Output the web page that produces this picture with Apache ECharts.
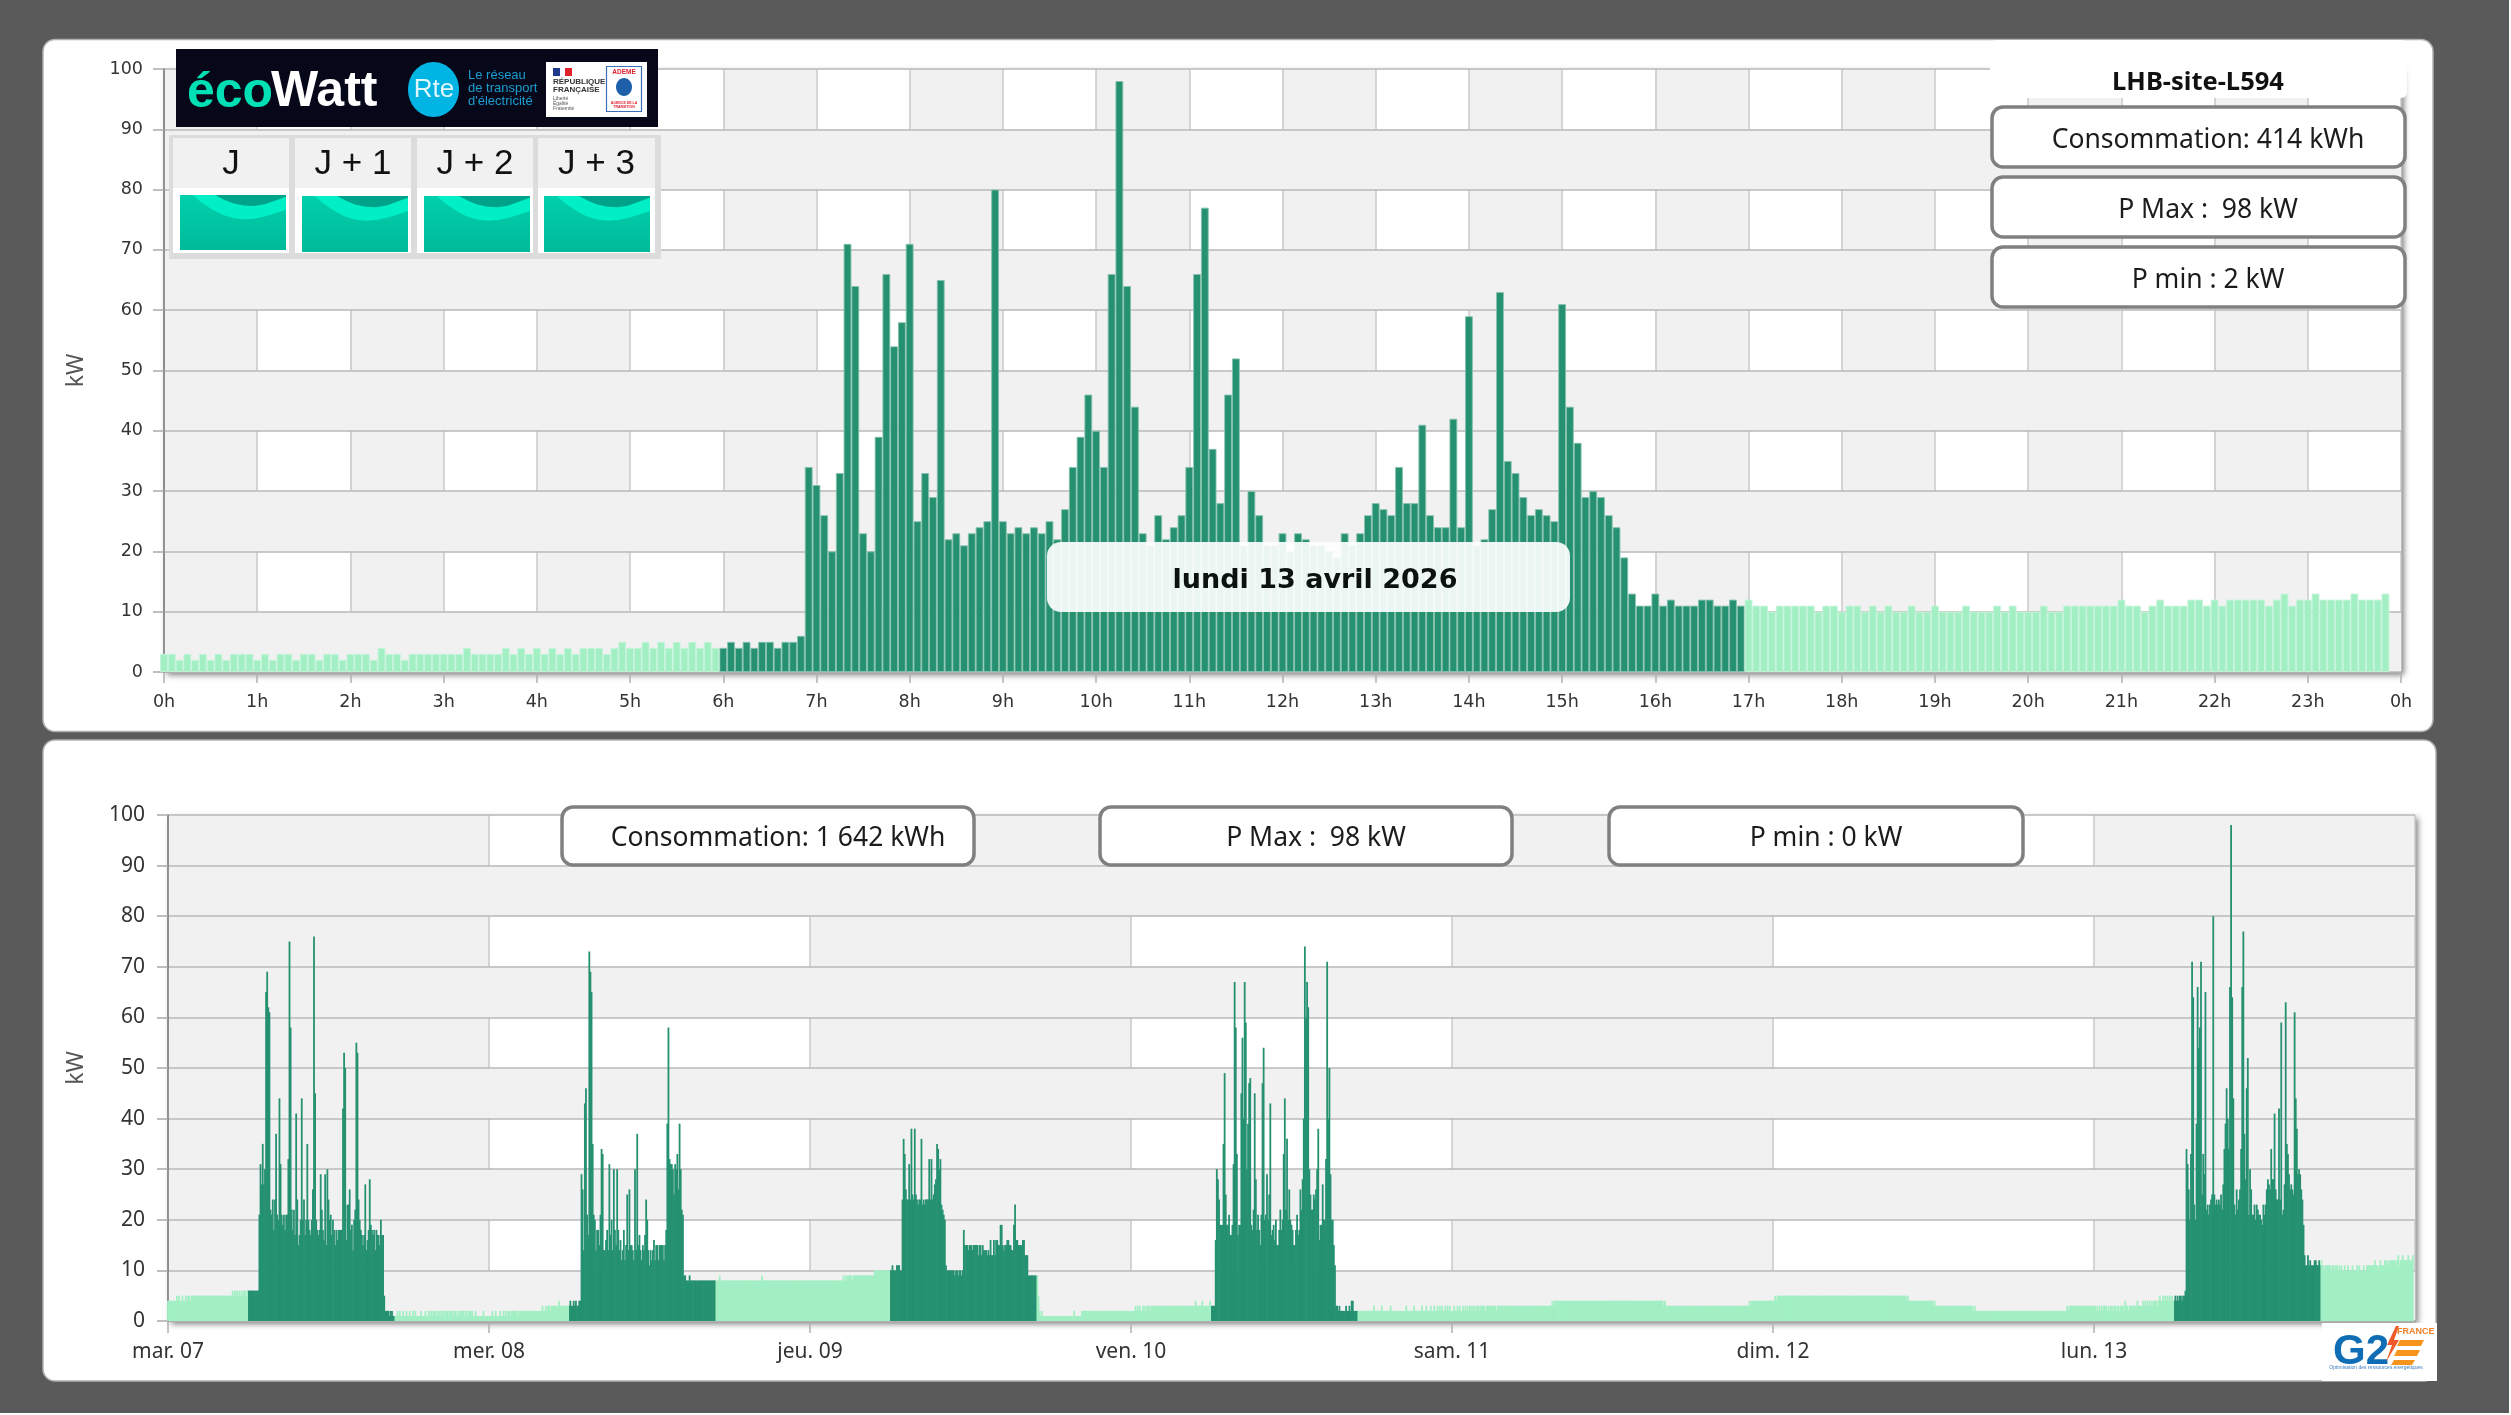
<!DOCTYPE html>
<html><head><meta charset="utf-8">
<style>html,body{margin:0;padding:0;background:#fff}#c{width:2511px;height:1415px}</style>
<script src="https://cdn.jsdelivr.net/npm/echarts@6/dist/echarts.min.js"></script>
</head><body><div id="c"></div>
<script>
const hourLabels=['0h','1h','2h','3h','4h','5h','6h','7h','8h','9h','10h','11h','12h','13h','14h','15h','16h','17h','18h','19h','20h','21h','22h','23h','0h'];
const dayLabels=['mar. 07','mer. 08','jeu. 09','ven. 10','sam. 11','dim. 12','lun. 13'];
const yTicks=[0,100,10];
const siteName='LHB-site-L594';
const dateLabel='lundi 13 avril 2026';
const dayStats=['Consommation: 414 kWh','P Max :  98 kW','P min : 2 kW'];
const weekStats=['Consommation: 1 642 kWh','P Max :  98 kW','P min : 0 kW'];
const ecowattDays=['J','J + 1','J + 2','J + 3'];

const monday=[
3,3,2,3,2,3,2,3,2,3,3,3,
2,3,2,3,3,2,3,3,2,3,3,2,
3,3,3,2,4,3,3,2,3,3,3,3,
3,3,3,4,3,3,3,3,4,3,4,3,
4,3,4,3,4,3,4,4,4,3,4,5,
4,4,5,4,5,4,5,4,5,4,5,4,
4,5,4,5,4,5,5,4,5,5,6,34,
31,26,20,33,71,64,23,20,39,66,54,58,
71,25,33,29,65,22,23,21,23,24,25,80,
25,23,24,23,24,23,25,22,27,34,39,46,
40,34,66,98,64,44,23,21,26,22,24,26,
34,66,77,37,28,46,52,21,30,26,21,21,
23,20,23,22,21,21,20,19,23,21,23,26,
28,27,26,34,28,28,41,26,24,24,42,24,
59,21,22,27,63,35,33,29,26,27,26,25,
61,44,38,29,30,29,26,24,19,13,11,11,
13,11,12,11,11,11,12,12,11,11,12,11,
12,11,11,10,11,11,11,11,11,10,11,11,
10,11,11,10,11,10,11,10,10,11,10,10,
11,10,10,10,11,10,10,10,11,10,11,10,
10,10,11,10,10,11,11,11,11,11,11,11,
12,11,11,10,11,12,11,11,11,12,12,11,
12,11,12,12,12,12,12,11,12,13,11,12,
12,13,12,12,12,12,13,12,12,12,13,null];

const tuesday=[
4,4,4,4,4,4,4,4,5,4,5,4,
4,5,4,4,5,4,5,5,4,5,5,5,
5,5,5,5,5,5,5,5,5,5,5,5,
5,5,5,5,5,5,5,5,5,5,5,5,
5,5,5,5,5,5,5,5,5,5,6,5,
6,5,6,5,6,5,6,5,6,6,5,6,
6,6,6,6,6,6,6,6,6,6,21,31,
27,35,27,30,65,69,62,61,22,21,24,18,
24,37,21,20,44,31,21,19,21,18,21,21,
32,75,58,22,18,22,17,41,24,15,17,20,
44,20,24,17,20,35,20,18,17,20,26,76,
45,20,18,17,18,29,22,18,16,29,15,30,
24,20,21,17,20,18,15,18,16,18,18,18,
18,42,53,50,16,23,23,26,18,19,14,20,
22,55,53,24,20,18,17,15,17,27,14,16,
18,28,19,18,17,18,14,18,17,17,15,20,
17,17,5,2,2,2,2,1,2,2,1,1,
1,1,2,1,2,1,1,2,1,1,2,1,
1,2,1,1,2,1,2,1,1,1,1,2,
1,1,1,2,1,1,2,1,2,1,2,2,
2,1,2,1,2,1,2,2,1,2,2,2,
1,2,2,2,1,2,2,1,2,1,2,2,
2,2,1,2,2,1,2,2,2,2,1,1,
2,1,1,1,1,1,1,2,1,1,1,1];

const wednesday=[
1,1,1,2,1,1,2,1,1,1,2,1,
1,2,1,2,1,2,2,1,2,2,2,2,
2,2,1,2,2,2,2,2,2,2,2,2,
2,2,2,2,2,2,2,2,2,2,2,2,
3,2,2,3,2,3,3,2,3,3,3,3,
3,3,3,4,3,3,3,3,3,3,3,3,
3,4,3,3,4,3,4,3,3,4,4,29,
26,14,43,46,21,17,73,69,65,35,21,20,
14,18,18,15,21,34,33,14,14,16,18,14,
31,17,20,14,30,18,15,30,18,14,16,12,
14,18,12,15,25,14,26,15,15,14,12,30,
14,37,15,17,14,12,15,14,17,24,20,14,
11,14,12,14,16,12,15,15,12,15,15,15,
15,12,15,18,39,58,32,31,31,30,25,31,
30,33,26,39,30,22,21,9,9,8,8,8,
9,8,8,8,8,8,8,8,8,8,8,8,
8,8,8,8,8,8,8,8,8,8,8,8,
8,8,8,9,8,8,8,8,8,8,8,8,
8,8,8,8,8,8,8,8,8,8,8,8,
8,8,8,8,8,8,8,8,8,8,8,8,
8,8,8,8,8,9,8,8,8,8,8,8,
8,8,8,8,8,8,8,8,8,8,8,8,
8,8,8,8,8,8,8,8,8,8,8,8,
8,8,8,8,8,8,8,8,8,8,8,8];

const thursday=[
8,8,8,8,8,8,8,8,8,8,8,8,
8,8,8,8,8,8,8,8,8,8,8,8,
8,8,8,8,8,8,9,8,9,8,9,9,
9,9,8,9,9,9,9,9,9,9,9,9,
9,9,9,9,9,9,9,9,9,9,10,10,
10,10,10,10,10,10,10,10,10,10,10,10,
10,10,11,10,10,10,11,11,11,10,10,24,
36,33,26,24,24,31,24,38,25,24,38,25,
24,23,24,24,36,23,24,23,24,24,24,32,
24,32,24,25,27,28,35,34,30,32,23,22,
21,20,11,10,10,10,10,10,10,10,9,10,
10,9,10,10,9,10,18,15,15,15,14,15,
15,15,14,15,15,15,15,13,15,15,13,15,
14,14,14,13,14,13,16,13,13,16,13,16,
16,15,15,19,19,15,14,15,15,16,16,15,
15,14,14,19,23,16,16,15,15,15,15,16,
16,13,13,13,9,9,9,9,9,9,9,9,
9,5,2,1,2,1,1,1,1,1,1,1,
1,1,1,1,1,1,1,1,1,1,1,1,
1,1,1,1,1,1,1,1,1,2,1,1,
1,1,1,1,2,2,2,2,2,2,2,2,
2,2,2,2,2,2,2,2,2,2,2,2,
2,2,2,2,2,2,2,2,2,2,2,2,
2,2,2,2,2,2,2,2,2,2,2,2];

const friday=[
2,2,2,2,3,2,3,2,3,2,2,3,
3,2,3,3,3,2,3,3,3,3,3,3,
3,3,3,3,3,3,3,3,3,3,3,3,
3,3,3,3,3,3,3,3,3,3,3,3,
3,3,3,3,3,3,3,3,3,3,4,3,
3,3,3,3,4,3,3,3,3,3,3,4,
3,3,3,3,16,30,28,24,19,19,19,35,
49,25,19,19,21,17,17,19,31,67,58,33,
17,19,19,45,56,40,67,59,30,39,47,48,
19,18,22,45,28,18,21,18,15,21,47,54,
20,21,29,20,25,43,17,18,19,16,20,15,
15,18,22,18,20,33,44,22,36,20,26,20,
19,18,15,15,18,21,17,18,26,22,28,40,
74,60,67,62,30,25,22,22,25,24,26,30,
38,16,19,19,27,20,20,32,71,40,50,29,
20,20,15,11,3,3,2,3,2,2,2,2,
2,3,2,2,3,2,4,4,2,2,2,2,
2,2,2,2,2,2,2,2,2,2,2,2,
2,2,3,2,2,2,2,2,2,3,2,2,
2,2,2,2,2,3,2,2,2,2,2,2,
2,2,2,2,2,2,2,3,2,2,2,2,
2,2,3,2,2,2,2,2,2,3,2,2,
2,3,2,2,2,3,2,2,3,2,2,3,
2,3,2,3,2,2,3,2,3,2,3,2];

const saturday=[
2,2,3,2,2,3,2,3,2,2,3,2,
3,2,3,2,3,3,2,3,3,2,3,3,
3,2,3,3,3,3,2,3,3,3,3,3,
3,3,3,3,2,3,3,3,3,3,3,3,
3,3,3,3,3,3,3,3,3,3,3,3,
3,3,3,3,3,3,3,3,3,3,3,3,
3,3,3,3,3,3,3,3,3,3,3,3,
3,3,3,3,3,3,4,3,4,4,4,4,
4,4,4,4,4,4,4,4,4,4,4,4,
4,4,4,4,4,4,4,4,4,4,4,4,
4,4,4,4,4,4,4,4,4,4,4,4,
4,4,4,4,4,4,4,4,4,4,4,4,
4,4,4,4,4,4,4,4,4,4,4,4,
4,4,4,4,4,4,4,4,4,4,4,4,
4,4,4,4,4,4,4,4,4,4,4,4,
4,4,4,4,4,4,4,4,4,4,3,4,
3,3,3,3,3,3,3,3,3,3,3,3,
3,3,3,3,3,3,3,3,3,3,3,3,
3,3,3,3,3,3,3,3,3,3,3,3,
3,3,3,3,3,3,3,3,3,3,3,3,
3,3,3,3,3,3,3,3,3,3,3,3,
3,3,3,3,3,3,3,3,3,3,3,3,
3,3,3,4,3,4,4,4,4,4,4,4,
4,4,4,4,4,4,4,4,4,4,4,4];

const sunday=[
4,4,5,4,5,5,5,5,5,5,5,5,
5,5,5,5,5,5,5,5,5,5,5,5,
5,5,5,5,5,5,5,5,5,5,5,5,
5,5,5,5,5,5,5,5,5,5,5,5,
5,5,5,5,5,5,5,5,5,5,5,5,
5,5,5,5,5,5,5,5,5,5,5,5,
5,5,5,5,5,5,5,5,5,5,5,5,
5,5,5,5,5,5,5,5,5,5,5,5,
5,5,5,5,5,5,5,5,5,5,5,5,
5,5,5,5,5,5,5,5,5,5,5,5,
4,5,4,4,4,4,4,4,4,4,4,4,
4,4,4,4,4,4,4,4,4,4,4,4,
3,4,3,3,3,3,3,3,3,3,3,3,
3,3,3,3,3,3,3,3,3,3,3,3,
3,3,3,3,3,3,3,3,3,3,3,3,
2,3,2,2,2,2,2,2,2,2,2,2,
2,2,2,2,2,2,2,2,2,2,2,2,
2,2,2,2,2,2,2,2,2,2,2,2,
2,2,2,2,2,2,2,2,2,2,2,2,
2,2,2,2,2,2,2,2,2,2,2,2,
2,2,2,2,2,2,2,2,2,2,2,2,
2,2,2,2,2,2,2,2,2,2,2,2,
3,2,3,3,3,3,3,3,3,3,3,3,
3,3,3,3,3,3,3,3,3,3,3,3];

const occupiedFrom=72, occupiedUntil=204, workdays=[0,1,2,3,6];
const week=[tuesday,wednesday,thursday,friday,saturday,sunday,monday];
const DARK='#259170', LIGHT='#a2efc4', GRAY='#f1f1f1';

const dayCats=[]; for(let i=0;i<=288;i++) dayCats.push(i%12===0?hourLabels[i/12]:'');
const weekCats=[]; for(let i=0;i<=2016;i++) weekCats.push(i%288===0&&i<2016?dayLabels[i/288]:'');
const isOn=(d,i)=>workdays.includes(d)&&i>=occupiedFrom&&i<occupiedUntil;
const dayDark=monday.map((v,i)=>isOn(6,i)?v:null), dayLight=monday.map((v,i)=>isOn(6,i)?null:v);
const weekDark=[],weekLight=[];
week.forEach((arr,d)=>arr.forEach((v,i)=>{weekDark.push(isOn(d,i)?v:null);weekLight.push(isOn(d,i)?null:v);}));

function xAxis(idx,cats,step,font,size,margin,tickLen,color,splitCol){
  return {type:'category',gridIndex:idx,data:cats,boundaryGap:false,z:0,
    axisLine:{show:true,onZero:false,lineStyle:{color:'#9a9a9a',width:2}},
    axisTick:{show:true,length:tickLen,interval:i=>i%step===0&&i<cats.length-(idx?1:0),lineStyle:{color:'#b0b0b0',width:1.5}},
    axisLabel:{show:true,interval:i=>i%step===0,fontFamily:font,fontSize:size,margin:margin,color:color,hideOverlap:false,showMinLabel:true,showMaxLabel:idx===0},
    splitLine:{show:true,interval:step-1,lineStyle:{color:'#c8c8c8',width:1.5}},
    splitArea:{show:true,interval:step-1,areaStyle:{color:[splitCol,'#ffffff']}}};
}
function yAxis(idx,font,size,nameSize,nameGap,margin){
  return {type:'value',gridIndex:idx,min:yTicks[0],max:yTicks[1],interval:yTicks[2],name:'kW',nameLocation:'middle',nameGap:nameGap,z:1,
    nameTextStyle:{fontFamily:'"Noto Sans"',fontSize:nameSize,color:'#555'},
    axisLine:{show:true,lineStyle:{color:'#777',width:1.5}},
    axisTick:{show:true,length:11,lineStyle:{color:'#aaa',width:1.5}},
    axisLabel:{fontFamily:font,fontSize:size,color:'#333',margin:margin},
    splitLine:{show:true,lineStyle:{color:'#b8b8b8',width:1.5}},
    splitArea:{show:true,areaStyle:{color:[GRAY,'rgba(255,255,255,0)']}}};
}
function bars(idx,data,color,width,border){
  return {type:'bar',xAxisIndex:idx,yAxisIndex:idx,data:data,barWidth:width,barGap:'-100%',silent:true,animation:false,
    itemStyle:{color:color,borderColor:border||color,borderWidth:border?0.9:0}};
}

const G=[];
const rect=(x,y,w,h,fill,o={})=>G.push({type:'rect',z:o.z??100,shape:{x,y,width:w,height:h,r:o.r||0},style:{fill,stroke:o.stroke,lineWidth:o.lw||0}});
const text=(x,y,t,font,fill,o={})=>G.push({type:'text',z:o.z??101,x,y,style:{text:t,font,fill,textAlign:o.a||'center',textVerticalAlign:'middle'}});
const poly=(pts,fill,z=102)=>G.push({type:'polygon',z,shape:{points:pts},style:{fill}});

// frame
rect(0,0,2509,1413,'#5a5a5a',{z:-20});
rect(43,39.5,2390,692,'#fff',{z:-19,r:12,stroke:'#b0b0b0',lw:1.5});
rect(43,740,2393,641,'#fff',{z:-19,r:12,stroke:'#b0b0b0',lw:1.5});

// ecowatt banner
rect(176,49,482,78,'#07071a');
text(187,93,'éco','bold 50px "Liberation Sans"','#00e0b4',{a:'left'});
text(271,92,'Watt','bold 50px "Liberation Sans"','#ffffff',{a:'left'});
G.push({type:'ellipse',z:101,shape:{cx:433.5,cy:89.5,rx:25.5,ry:27.5},style:{fill:'#00b4e4'}});
text(434,90,'Rte','26px "Liberation Sans Narrow","Liberation Sans"','#dff6fd');
text(468,75,'Le réseau','13px "Liberation Sans"','#1a9fd0',{a:'left'});
text(468,88.5,'de transport','13px "Liberation Sans"','#1a9fd0',{a:'left'});
text(468,101,"d'électricité",'13px "Liberation Sans"','#1a9fd0',{a:'left'});
rect(546,62,101,55,'#fff');
rect(553,68,7,8,'#1f3a8a');rect(560,68,5,8,'#fff');rect(565,68,7,8,'#e0202a');
text(553,82,'RÉPUBLIQUE','bold 8px "Liberation Sans"','#333',{a:'left'});
text(553,90,'FRANÇAISE','bold 8px "Liberation Sans"','#333',{a:'left'});
text(553,99,'Liberté','5px "Liberation Sans"','#555',{a:'left'});
text(553,104,'Égalité','5px "Liberation Sans"','#555',{a:'left'});
text(553,109,'Fraternité','5px "Liberation Sans"','#555',{a:'left'});
rect(606.5,66.5,35,45,'#fff',{stroke:'#3a6fb5',lw:1.2});
text(624,72,'ADEME','bold 6.5px "Liberation Sans"','#e02030');
G.push({type:'ellipse',z:101,shape:{cx:624,cy:87,rx:8,ry:9},style:{fill:'#1d5fa8'}});
text(624,103,'AGENCE DE LA','bold 3.5px "Liberation Sans"','#e02030');
text(624,107,'TRANSITION','bold 3.5px "Liberation Sans"','#e02030');

// ecowatt forecast widget
rect(169,135,492,124,'#dcdcdc');
const hdr=[[173,116],[295,116],[417,116],[538,117]];
const cell=[[180,195,106,55],[302,196,106,56],[424,196,106,56],[544,196,106,56]];
const bandShape=[[.12,0],[.2,.13],[.3,.26],[.4,.36],[.5,.42],[.6,.44],[.7,.43],[.8,.39],[.9,.33],[1,.27],[1,0]];
const arcShape=[[.33,0],[.42,.09],[.5,.15],[.6,.19],[.7,.2],[.8,.17],[.9,.1],[1,.03],[1,0]];
hdr.forEach((h,i)=>{
  rect(h[0],138,h[1],50,GRAY);
  rect(h[0],188,h[1],65,'#fff');
  text(h[0]+h[1]/2,164,ecowattDays[i],'35px "Liberation Sans"','#111');
  const [x,y,w,hh]=cell[i];
  G.push({type:'rect',z:101,shape:{x,y,width:w,height:hh},style:{fill:{type:'linear',x:0,y:0,x2:0,y2:1,colorStops:[{offset:0,color:'#00d0ac'},{offset:1,color:'#00ba9a'}]}}});
  poly(bandShape.map(p=>[x+p[0]*w,y+p[1]*hh]),'#00efc6',102);
  poly(arcShape.map(p=>[x+p[0]*w,y+p[1]*hh]),'#00a289',103);
});

// info boxes, day chart
rect(1990,40,417,58,'#fff',{r:6,z:99});
text(2198,83,siteName,'bold 25.5px "Noto Sans"','#111');
[107,177,247].forEach((y,i)=>{
  rect(1992,y,413,60,'#fff',{r:11,stroke:'#808080',lw:3.5});
  text(2208,y+33,dayStats[i],'26.5px "Noto Sans"','#1c1c1c');
});
// date label
rect(1047,542,523,70,'rgba(255,255,255,0.91)',{r:14});
text(1315,581,dateLabel,'bold 27px "DejaVu Sans"','#0b120f');

// info boxes, week chart
[[562,412],[1100,412],[1609,414]].forEach((b,i)=>{
  rect(b[0],807,b[1],58,'#fff',{r:11,stroke:'#808080',lw:3.5});
  text(b[0]+b[1]/2+10,838,weekStats[i],'26.5px "Noto Sans"','#1c1c1c');
});

// G2E logo
rect(2322,1323,115,58,'#fff');
text(2333,1352,'G2','bold 42px "Liberation Sans"','#0f6db5',{a:'left'});
poly([[2396,1326],[2387,1345],[2392,1345],[2386,1362],[2399,1340],[2394,1340],[2399,1326]],'#f0592a');
text(2397,1332,'FRANCE','bold 9px "Liberation Sans"','#f0802a',{a:'left',z:104});
poly([[2400,1340],[2424,1340],[2421,1346],[2397,1346]],'#f7941d');
poly([[2397,1350],[2420,1350],[2417,1356],[2394,1356]],'#f7941d');
poly([[2394,1360],[2415,1360],[2412,1365],[2391,1365]],'#f7941d');
text(2376,1368,'Optimisation des ressources énergétiques','5px "Liberation Sans"','#3b7cc0');

const chart=echarts.init(document.getElementById('c'),null,{renderer:'canvas',width:2511,height:1415});
chart.setOption({
  backgroundColor:'#fff',animation:false,
  tooltip:{show:false},legend:{show:false},
  grid:[
    {left:164,top:69,width:2237,height:603,containLabel:false,show:true,backgroundColor:'#fff',borderWidth:0,shadowColor:'rgba(0,0,0,0.5)',shadowBlur:6,shadowOffsetX:3,shadowOffsetY:3},
    {left:168,top:815,width:2247,height:506,containLabel:false,show:true,backgroundColor:'#fff',borderWidth:0,shadowColor:'rgba(0,0,0,0.5)',shadowBlur:6,shadowOffsetX:3,shadowOffsetY:3}
  ],
  xAxis:[
    xAxis(0,dayCats,12,'"DejaVu Sans"',17.5,21,11,'#333',GRAY),
    xAxis(1,weekCats,288,'"Noto Sans"',21,21,12,'#333',GRAY)
  ],
  yAxis:[
    yAxis(0,'"DejaVu Sans"',17.5,23,76,21),
    yAxis(1,'"Noto Sans"',21,23,80,23)
  ],
  series:[
    bars(0,dayDark,DARK,7.77,'#84c2ac'),
    bars(0,dayLight,LIGHT,7.77,'#c4f5da'),
    bars(1,weekDark,DARK,1.8,null),
    bars(1,weekLight,LIGHT,1.8,null)
  ],
  graphic:{elements:G}
});
</script></body></html>
